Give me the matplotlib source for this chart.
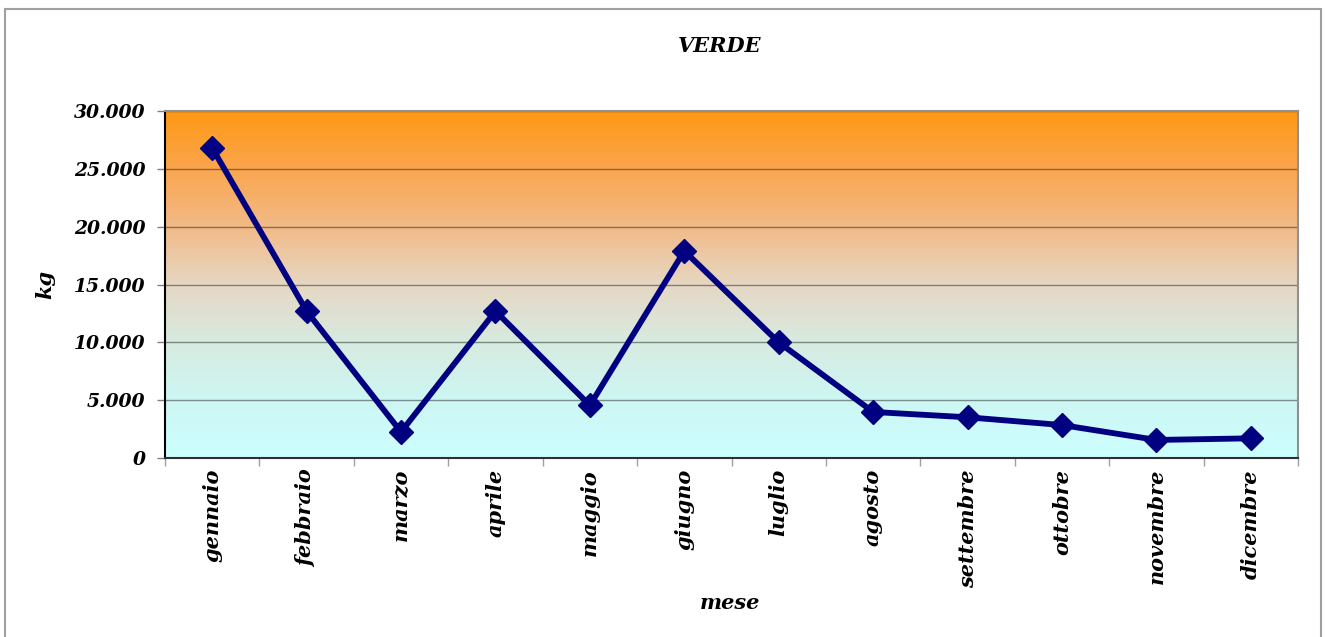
import matplotlib
matplotlib.use("Agg")
import matplotlib.pyplot as plt
import numpy as np
from matplotlib.colors import LinearSegmentedColormap
from matplotlib.ticker import FuncFormatter, FixedLocator
from matplotlib.patches import Rectangle

months = ["gennaio", "febbraio", "marzo", "aprile", "maggio", "giugno",
          "luglio", "agosto", "settembre", "ottobre", "novembre", "dicembre"]
values = [26800, 12700, 2250, 12700, 4550, 17900, 10000, 3980, 3520, 2850, 1560, 1700]
yticks = [0, 5000, 10000, 15000, 20000, 25000, 30000]

plt.rcParams['font.family'] = ['DejaVu Serif']

fig = plt.figure(figsize=(13.25, 6.37), dpi=100)
ax = fig.add_axes([165/1325, (637-458)/637, (1298-165)/1325, (458-111)/637])

# outer frame
fig.patches.append(Rectangle((5/1325, -0.05), (1321-5)/1325, (637-9)/637 + 0.05,
                             transform=fig.transFigure, fill=False,
                             edgecolor='#a0a0a0', linewidth=1.5))

# gradient background
grad_colors = [(0.0, (204/255, 255/255, 255/255)),
               (0.17, (205/255, 246/255, 242/255)),
               (0.33, (215/255, 235/255, 225/255)),
               (0.5, (230/255, 215/255, 195/255)),
               (0.67, (242/255, 186/255, 135/255)),
               (0.83, (250/255, 166/255, 80/255)),
               (1.0, (255/255, 153/255, 20/255))]
cmap = LinearSegmentedColormap.from_list("bg", grad_colors)
grad = np.linspace(0, 1, 256).reshape(-1, 1)
ax.imshow(grad, aspect='auto', cmap=cmap, origin='lower',
          extent=[-0.5, 11.5, 0, 30000], zorder=0, interpolation='bilinear')

x = np.arange(len(months))
ax.plot(x, values, color='#000080', linewidth=4.2, marker='D', markersize=12,
        markerfacecolor='#000080', markeredgecolor='#000080', zorder=3)

ax.set_xlim(-0.5, 11.5)
ax.set_ylim(0, 30000)
ax.set_yticks(yticks)
ax.yaxis.set_major_formatter(FuncFormatter(lambda v, p: f"{int(v):,}".replace(",", ".")))
ax.grid(axis='y', color='black', alpha=0.42, linewidth=1.0, zorder=1)
for gl in ax.get_ygridlines():
    gl.set_zorder(1)

ax.set_xticks(x)
ax.set_xticklabels(months, rotation=90, fontsize=15, fontweight='bold', fontstyle='italic')
ax.xaxis.set_minor_locator(FixedLocator(np.arange(-0.5, 12, 1)))
ax.tick_params(axis='x', which='major', length=0, pad=8)
ax.tick_params(axis='x', which='minor', length=6, color='#a0a0a0', width=1)
ax.tick_params(axis='y', length=6, color='#808080', width=1, pad=8)
for lbl in ax.get_yticklabels():
    lbl.set_fontsize(13.5)
    lbl.set_fontweight('bold')
    lbl.set_fontstyle('italic')

ax.spines['left'].set_color('black')
ax.spines['bottom'].set_color('#303030')
ax.spines['top'].set_color('#909090')
ax.spines['right'].set_color('#909090')
for s in ax.spines.values():
    s.set_linewidth(1.5)

ax.set_ylabel("kg", fontsize=15, fontweight='bold', fontstyle='italic')
ax.yaxis.set_label_coords((55-165)/1133, 0.5)
ax.set_xlabel("mese", fontsize=15, fontweight='bold', fontstyle='italic')
ax.xaxis.set_label_coords((730-165)/1133, (458-593)/347)

fig.text(720/1325, (637-46)/637, "VERDE", ha='center', va='center',
         fontsize=15, fontweight='bold', fontstyle='italic')

fig.savefig("out.png", dpi=100)
